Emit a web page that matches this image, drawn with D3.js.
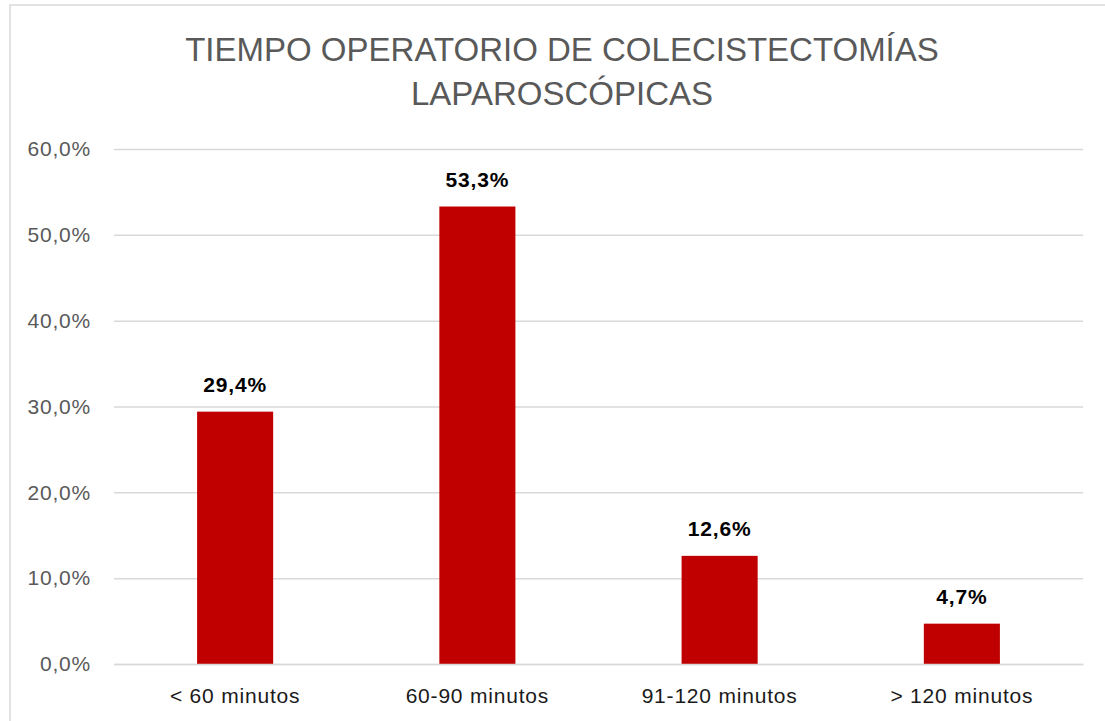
<!DOCTYPE html>
<html>
<head>
<meta charset="utf-8">
<script src="https://cdn.jsdelivr.net/npm/d3@7"></script>
<style>
  html, body { margin: 0; padding: 0; background: #fff; }
  svg { display: block; }
</style>
</head>
<body>
<script>
const titleLines = ["TIEMPO OPERATORIO DE COLECISTECTOMÍAS", "LAPAROSCÓPICAS"];
const categories = ["< 60 minutos", "60-90 minutos", "91-120 minutos", "> 120 minutos"];
const values = [29.4, 53.3, 12.6, 4.7];
const valueLabels = ["29,4%", "53,3%", "12,6%", "4,7%"];
const yTicks = [0, 10, 20, 30, 40, 50, 60];
const yTickLabels = ["0,0%", "10,0%", "20,0%", "30,0%", "40,0%", "50,0%", "60,0%"];

const W = 1105, H = 721;
const svg = d3.select("body").append("svg").attr("width", W).attr("height", H);
const font = "'Liberation Sans', Arial, sans-serif";

svg.append("rect").attr("x", 10).attr("y", 5).attr("width", W + 10).attr("height", H + 10)
  .attr("fill", "#fff").attr("stroke", "#d9d9d9").attr("stroke-width", 1.5);

const plotLeft = 114, plotRight = 1083, plotTop = 149, plotBottom = 664;
const x = d3.scaleBand().domain(categories).range([plotLeft, plotRight]).paddingInner(0.686).paddingOuter(0.343);
const y = d3.scaleLinear().domain([0, 60]).range([plotBottom, plotTop]);

// title
svg.append("g").selectAll("text").data(titleLines).join("text")
  .attr("x", 562).attr("y", (d, i) => 61 + i * 44)
  .attr("text-anchor", "middle")
  .attr("font-family", font).attr("font-size", 33).attr("fill", "#595959")
  .text(d => d);

// gridlines
const yAxis = d3.axisLeft(y).tickValues(yTicks).tickSize(-(plotRight - plotLeft))
  .tickFormat((d, i) => yTickLabels[i]).tickPadding(23);
const gy = svg.append("g").attr("transform", `translate(${plotLeft},0)`).call(yAxis);
gy.select(".domain").remove();
gy.selectAll(".tick line").attr("stroke", "#d9d9d9").attr("stroke-width", 1.5);
gy.selectAll(".tick text").attr("font-family", font).attr("font-size", 21)
  .attr("letter-spacing", 0.8).attr("fill", "#595959");

// bars
svg.append("g").selectAll("rect").data(values).join("rect")
  .attr("x", (d, i) => x(categories[i]))
  .attr("width", x.bandwidth())
  .attr("y", d => y(d))
  .attr("height", d => y(0) - y(d))
  .attr("fill", "#c00000");

// value labels
svg.append("g").selectAll("text").data(values).join("text")
  .attr("x", (d, i) => x(categories[i]) + x.bandwidth() / 2)
  .attr("y", d => y(d) - 20)
  .attr("text-anchor", "middle")
  .attr("font-family", font).attr("font-size", 21).attr("font-weight", "bold")
  .attr("letter-spacing", 0.8).attr("fill", "#000")
  .text((d, i) => valueLabels[i]);

// x axis
const xAxis = d3.axisBottom(x).tickSize(0).tickPadding(24);
const gx = svg.append("g").attr("transform", `translate(0,${plotBottom})`).call(xAxis);
gx.select(".domain").attr("stroke", "#d9d9d9").attr("stroke-width", 1.5);
gx.selectAll(".tick text").attr("font-family", font).attr("font-size", 21)
  .attr("letter-spacing", 0.8).attr("fill", "#1a1a1a");
</script>
</body>
</html>
